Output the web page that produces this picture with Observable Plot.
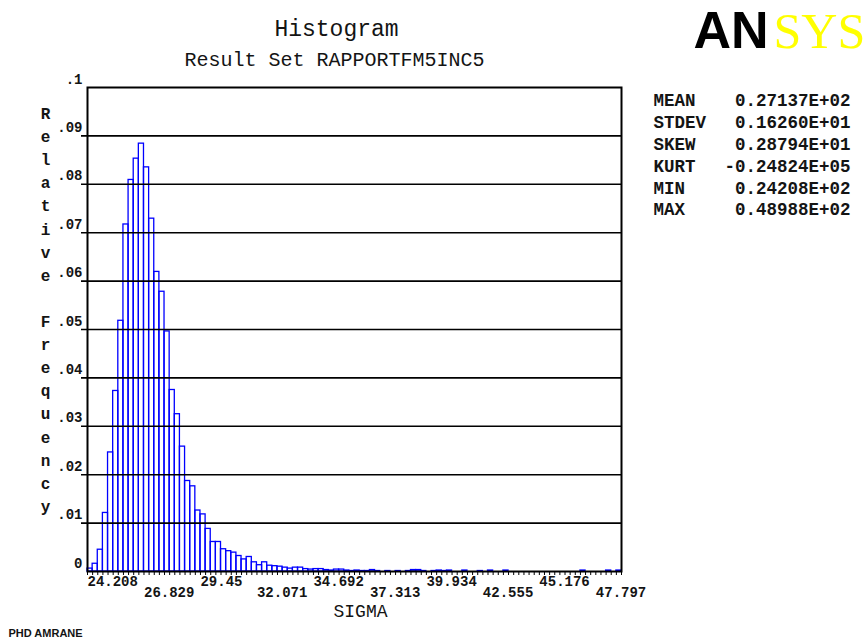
<!DOCTYPE html>
<html>
<head>
<meta charset="utf-8">
<script src="https://cdn.jsdelivr.net/npm/d3@7"></script>
<script src="https://cdn.jsdelivr.net/npm/@observablehq/plot@0.6"></script>
<style>
  html, body { margin: 0; padding: 0; background: #fff; }
  #chart svg { display: block; }
</style>
</head>
<body>
<div id="chart"></div>
<script>
// ---- data ----
const binValues = [
  0.0006, 0.0016, 0.0045, 0.0121, 0.0246, 0.0373, 0.0518, 0.0717, 0.0809, 0.0853,
  0.0884, 0.0835, 0.0729, 0.0619, 0.0578, 0.0496, 0.0375, 0.0325, 0.0258, 0.0187,
  0.0176, 0.0126, 0.0118, 0.0088, 0.0061, 0.0061, 0.0046, 0.0042, 0.0039, 0.0032,
  0.0025, 0.0030, 0.0019, 0.0013, 0.0019, 0.0012, 0.0011, 0.0010, 0.0008, 0.0006,
  0.0008, 0.0008, 0.0005, 0.0004, 0.0005, 0.0005, 0.0003, 0.0002, 0.0004, 0.0004,
  0.0002, 0.0001, 0.0002, 0.0001, 0.0001, 0.0003, 0.0001, 0, 0.0001, 0,
  0.0001, 0, 0.0001, 0.0003, 0.0003, 0.0001, 0, 0.0001, 0.0002, 0.0001,
  0.0002, 0, 0, 0.0002, 0, 0, 0.0001, 0, 0.0002, 0,
  0, 0.0002, 0, 0, 0, 0, 0, 0, 0, 0,
  0, 0, 0, 0, 0, 0, 0.0002, 0, 0, 0,
  0, 0.0002, 0, 0.0002
];
const sigmaMin = 24.208;
const sigmaMax = 48.988;
const xTicksRow1 = [24.208, 29.45, 34.692, 39.934, 45.176];
const xTicksRow2 = [26.829, 32.071, 37.313, 42.555, 47.797];
const yGrid = [0.01, 0.02, 0.03, 0.04, 0.05, 0.06, 0.07, 0.08, 0.09];
const yTickValues = [0.1, 0.09, 0.08, 0.07, 0.06, 0.05, 0.04, 0.03, 0.02, 0.01, 0];
const yTickLabels = [".1", ".09", ".08", ".07", ".06", ".05", ".04", ".03", ".02", ".01", "0"];
const statLabels = ["MEAN", "STDEV", "SKEW", "KURT", "MIN", "MAX"];
const statValues = ["0.27137E+02", "0.16260E+01", "0.28794E+01", "-0.24824E+05", "0.24208E+02", "0.48988E+02"];
const titleText = "Histogram";
const subtitleText = "Result Set RAPPORTFM5INC5";
const xLabel = "SIGMA";
const yLabelWords = ["Relative", "Frequency"];
const footer = "PHD AMRANE";

// ---- derived tables ----
const nBins = binValues.length;
const binWidth = (sigmaMax - sigmaMin) / nBins;
const bins = binValues.map((v, i) => ({x1: sigmaMin + i * binWidth, x2: sigmaMin + (i + 1) * binWidth, v}));
const edges = d3.range(nBins + 1).map(i => sigmaMin + i * binWidth);
const yTicks = yTickValues.map((v, i) => ({v, label: yTickLabels[i]}));

const mono = "'Liberation Mono', 'Courier New', monospace";
const ink = "#141414";

const chart = Plot.plot({
  width: 865,
  height: 641,
  marginLeft: 87,
  marginRight: 244,
  marginTop: 87,
  marginBottom: 70,
  x: {domain: [sigmaMin, sigmaMax]},
  y: {domain: [0, 0.1], axis: null},
  style: {fontFamily: mono, background: "white", color: ink, overflow: "visible"},
  marks: [
    Plot.rectY(bins, {x1: "x1", x2: "x2", y: "v", fill: "none", stroke: "#0000ff", strokeWidth: 1.3}),
    Plot.ruleY(yGrid, {stroke: "black", strokeWidth: 1.6, insetLeft: -6}),
    Plot.axisX({ticks: edges, tickSize: 4, tickFormat: () => "", stroke: "black", strokeWidth: 1}),
    Plot.frame({stroke: "black", strokeWidth: 2}),
    // x tick labels (two staggered rows)
    Plot.text(xTicksRow1, {x: d => d, text: d => String(d), frameAnchor: "bottom", lineAnchor: "bottom",
      textAnchor: "start", dy: 14, fontSize: 14, fontWeight: "bold", fill: ink}),
    Plot.text(xTicksRow2, {x: d => d, text: d => String(d), frameAnchor: "bottom", lineAnchor: "bottom",
      textAnchor: "start", dy: 25, fontSize: 14, fontWeight: "bold", fill: ink}),
    // y tick labels
    Plot.text(yTicks, {y: "v", text: "label", frameAnchor: "left", textAnchor: "end", lineAnchor: "bottom",
      dx: -5, dy: -4, fontSize: 14, fontWeight: "bold", fill: ink}),
    // y axis title, letters stacked
    Plot.text([yLabelWords[0]], {text: d => d.split("").join("\n"), frameAnchor: "top-left", textAnchor: "middle",
      lineAnchor: "top", lineHeight: 1.445, dx: -42, dy: 15, fontSize: 16, fontWeight: "bold", fill: ink}),
    Plot.text([yLabelWords[1]], {text: d => d.split("").join("\n"), frameAnchor: "top-left", textAnchor: "middle",
      lineAnchor: "top", lineHeight: 1.445, dx: -42, dy: 223, fontSize: 16, fontWeight: "bold", fill: ink}),
    // x axis title
    Plot.text([xLabel], {text: d => d, frameAnchor: "bottom", lineAnchor: "bottom", dx: 6, dy: 45,
      fontSize: 18, fill: ink}),
    // titles
    Plot.text([titleText], {text: d => d, frameAnchor: "top", lineAnchor: "bottom", dx: -18, dy: -52,
      fontSize: 23, fill: ink}),
    Plot.text([subtitleText], {text: d => d, frameAnchor: "top", lineAnchor: "bottom", dx: -20, dy: -22,
      fontSize: 20, fill: ink}),
    // statistics block
    Plot.text([statLabels.join("\n")], {text: d => d, frameAnchor: "top-right", textAnchor: "start",
      lineAnchor: "top", lineHeight: 1.25, dx: 32, dy: 3, fontSize: 17.5, fontWeight: "bold", fill: ink}),
    Plot.text([statValues.join("\n")], {text: d => d, frameAnchor: "top-right", textAnchor: "end",
      lineAnchor: "top", lineHeight: 1.25, dx: 229, dy: 3, fontSize: 17.5, fontWeight: "bold", fill: ink}),
    // logo
    Plot.text(["AN"], {text: d => d, frameAnchor: "top-right", textAnchor: "start", lineAnchor: "bottom",
      dx: 72, dy: -40, fontSize: 52, fontWeight: 900, fontFamily: "'Liberation Sans', Arial, sans-serif",
      fill: "black", letterSpacing: "-3px"}),
    Plot.text(["SYS"], {text: d => d, frameAnchor: "top-right", textAnchor: "start", lineAnchor: "bottom",
      dx: 152, dy: -40, fontSize: 50, fontFamily: "'Liberation Serif', 'Times New Roman', serif",
      fill: "#ffff00", letterSpacing: "-2px"}),
    // footer
    Plot.text([footer], {text: d => d, frameAnchor: "bottom-left", textAnchor: "start", lineAnchor: "bottom",
      dx: -79, dy: 65, fontSize: 11, fontWeight: "bold", fontFamily: "'Liberation Sans', Arial, sans-serif", fill: ink})
  ]
});
document.getElementById("chart").appendChild(chart);
</script>
</body>
</html>
